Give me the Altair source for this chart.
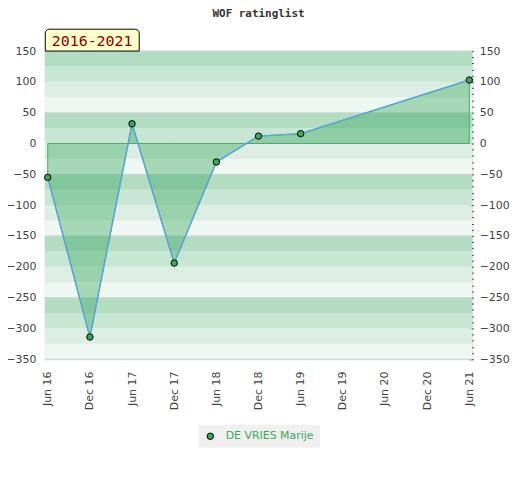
import altair as alt
import pandas as pd

# ---- data ----
tick_labels = ["Jun 16", "Dec 16", "Jun 17", "Dec 17", "Jun 18", "Dec 18",
               "Jun 19", "Dec 19", "Jun 20", "Dec 20", "Jun 21"]
periods = ["Jun 16", "Dec 16", "Jun 17", "Dec 17", "Jun 18", "Dec 18", "Jun 19", "Jun 21"]
ratings = [-55, -314, 32, -194, -30, 12, 16, 103]
player = "DE VRIES Marije"
range_label = "2016-2021"
chart_title = "WOF ratinglist"
y_min, y_max = -350, 150
grid_values = [150, 50, -50, -150, -250, -350]

# ---- style ----
W, H = 430, 310
band_colors = ["#b3dcc3", "#c8e6d4", "#dceee3", "#eff7f2"]
green = "#3aa75e"
blue = "#5ea4d8"

df = pd.DataFrame({
    "period": periods,
    "idx": [tick_labels.index(p) for p in periods],
    "rating": ratings,
    "base": [0] * len(periods),
    "name": [player] * len(periods),
})

band_lo = list(range(y_min, y_max, 25))
bands = pd.DataFrame({
    "lo": band_lo,
    "hi": [b + 25 for b in band_lo],
    "col": [band_colors[((y_max - (b + 25)) // 25) % 4] for b in band_lo],
})
grid = pd.DataFrame({"v": grid_values})

xscale = alt.Scale(domain=[-0.07, 10.07], nice=False, zero=False)
yscale = alt.Scale(domain=[y_min, y_max], nice=False, zero=False)
label_expr = "[" + ",".join("'%s'" % t for t in tick_labels) + "][datum.value]"

x_axis = alt.Axis(
    values=list(range(len(tick_labels))), labelExpr=label_expr,
    labelAngle=-90, ticks=False, domain=False, grid=False,
    labelPadding=12, labelFontSize=11, labelColor="#444",
    labelFont="DejaVu Sans", title=None)

band_layer = alt.Chart(bands).mark_rect().encode(
    x=alt.value(0), x2=alt.value(W),
    y=alt.Y("lo:Q", scale=yscale, axis=alt.Axis(
        orient="left", values=list(range(y_min, y_max + 1, 50)), ticks=False,
        domain=False, grid=False, labelPadding=9, labelFontSize=11,
        labelColor="#444", labelFont="DejaVu Sans", title=None)),
    y2="hi:Q",
    fill=alt.Fill("col:N", scale=None),
)

grid_layer = alt.Chart(grid).mark_rule(color="#d2d2d2", strokeWidth=1).encode(
    x=alt.value(0), x2=alt.value(W),
    y=alt.Y("v:Q", scale=yscale, axis=alt.Axis(
        orient="right", values=list(range(y_min, y_max + 1, 10)),
        labelExpr="datum.value % 50 == 0 ? datum.label : ''",
        tickSize=4, tickColor="#222", offset=-3, domain=False, grid=False,
        labelPadding=6, labelFontSize=11, labelColor="#444",
        labelFont="DejaVu Sans", title=None)),
)

area_layer = alt.Chart(df).mark_area(
    color=green, fillOpacity=0.4, stroke=green, strokeWidth=1, strokeOpacity=0.9
).encode(
    x=alt.X("idx:Q", scale=xscale, axis=x_axis),
    y=alt.Y("rating:Q", scale=yscale, axis=None),
    y2="base:Q",
)

line_layer = alt.Chart(df).mark_line(color=blue, strokeWidth=1.5).encode(
    x=alt.X("idx:Q", scale=xscale, axis=x_axis),
    y=alt.Y("rating:Q", scale=yscale, axis=None),
)

point_layer = alt.Chart(df).mark_point(
    filled=True, size=42, stroke="black", strokeWidth=1, opacity=1
).encode(
    x=alt.X("idx:Q", scale=xscale, axis=x_axis),
    y=alt.Y("rating:Q", scale=yscale, axis=None),
    color=alt.Color("name:N", scale=alt.Scale(range=[green]), legend=alt.Legend(
        title=None, orient="none", legendX=155, legendY=376,
        fillColor="#f0f0f0", padding=6, labelColor=green, labelFontSize=11,
        labelFont="DejaVu Sans", symbolSize=42, symbolStrokeColor="black",
        symbolStrokeWidth=1, symbolType="circle", labelOffset=10)),
)

box_layer = alt.Chart(pd.DataFrame({"t": [range_label]})).mark_rect(
    fill="#ffffcc", stroke="black", strokeWidth=1,
    cornerRadiusTopLeft=4, cornerRadiusTopRight=4
).encode(
    x=alt.value(0.5), x2=alt.value(95), y=alt.value(-22), y2=alt.value(0)
)

text_layer = alt.Chart(pd.DataFrame({"t": [range_label]})).mark_text(
    font="DejaVu Sans Mono", fontSize=15, color="#8b0000", align="left",
    baseline="middle"
).encode(
    x=alt.value(7), y=alt.value(-10), text="t:N"
)

chart = alt.layer(
    band_layer, grid_layer, area_layer, line_layer, point_layer, box_layer, text_layer
).resolve_axis(y="independent").properties(
    width=W, height=H,
    title=alt.TitleParams(chart_title, font="DejaVu Sans Mono", fontSize=11,
                          fontWeight="bold", color="#333", offset=10,
                          anchor="middle"),
    autosize=alt.AutoSizeParams(type="none"),
    padding={"left": 37, "top": 42, "right": 40, "bottom": 90},
).configure_view(stroke="#dcdcdc", strokeWidth=1)

chart.save("out.html", embed_options={"renderer": "svg", "actions": False})
